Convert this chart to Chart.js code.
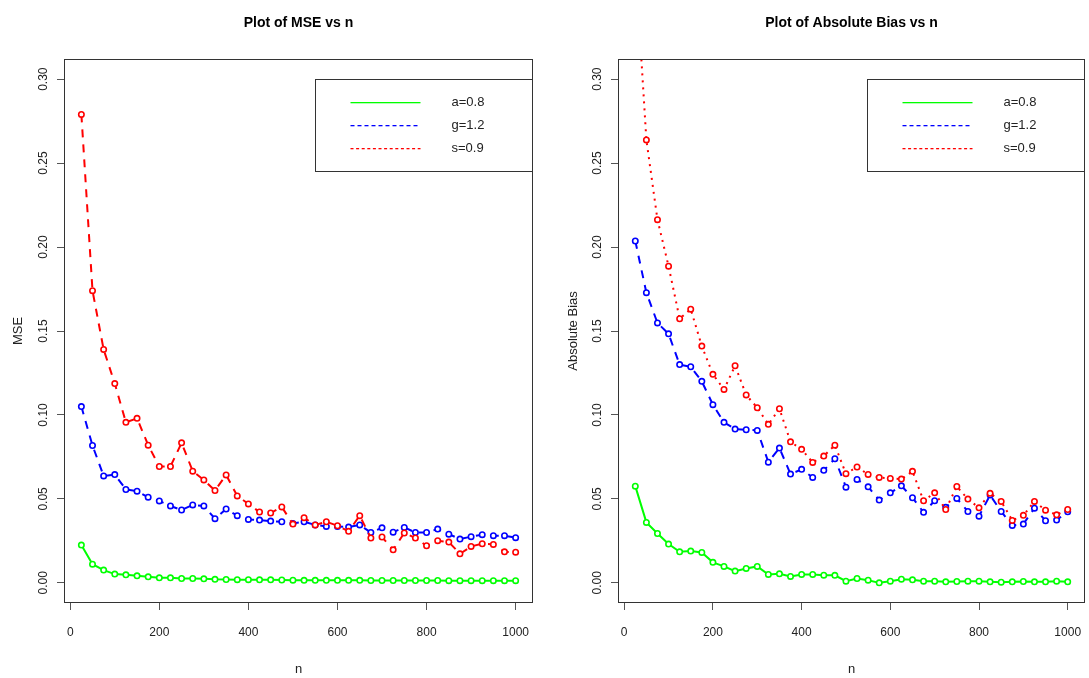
<!DOCTYPE html>
<html>
<head>
<meta charset="utf-8">
<script src="https://cdn.jsdelivr.net/npm/chart.js@4.4.1/dist/chart.umd.min.js"></script>
<style>
  body { margin: 0; background: #fff; width: 1089px; height: 678px; overflow: hidden; position: relative; }
  #mse { position: absolute; left: 0; top: 0; }
  #bias { position: absolute; left: 545px; top: 0; }
</style>
</head>
<body>
<canvas id="mse" width="545" height="678"></canvas>
<canvas id="bias" width="552" height="678"></canvas>
<script>
// sample sizes
const n = [25, 50, 75, 100, 125, 150, 175, 200, 225, 250, 275, 300, 325, 350, 375, 400, 425, 450, 475, 500,
           525, 550, 575, 600, 625, 650, 675, 700, 725, 750, 775, 800, 825, 850, 875, 900, 925, 950, 975, 1000];

// MSE
const mseA = [0.0225, 0.0111, 0.0076, 0.0052, 0.0048, 0.0042, 0.0036, 0.0030, 0.0030, 0.0026,
              0.0026, 0.0024, 0.0021, 0.0020, 0.0019, 0.0019, 0.0018, 0.0018, 0.0017, 0.0016,
              0.0015, 0.0015, 0.0015, 0.0015, 0.0015, 0.0015, 0.0014, 0.0014, 0.0014, 0.0014,
              0.0014, 0.0014, 0.0014, 0.0013, 0.0013, 0.0013, 0.0013, 0.0013, 0.0013, 0.0013];
const mseG = [0.105, 0.0818, 0.0637, 0.0645, 0.0556, 0.0546, 0.051, 0.0488, 0.0458, 0.0434,
              0.0464, 0.0458, 0.0382, 0.044, 0.040, 0.0378, 0.0374, 0.0368, 0.0364, 0.0354,
              0.0364, 0.0345, 0.0336, 0.0336, 0.0332, 0.0345, 0.030, 0.0328, 0.0302, 0.033,
              0.030, 0.030, 0.032, 0.029, 0.0261, 0.0275, 0.0287, 0.0281, 0.0281, 0.0269];
const mseS = [0.279, 0.174, 0.139, 0.1187, 0.0956, 0.098, 0.082, 0.0693, 0.0693, 0.0834,
              0.0665, 0.0613, 0.055, 0.0643, 0.0518, 0.047, 0.0422, 0.0416, 0.0452, 0.035,
              0.0388, 0.0345, 0.0364, 0.034, 0.0307, 0.040, 0.0267, 0.0273, 0.0197, 0.0297,
              0.0267, 0.0221, 0.0251, 0.0243, 0.0173, 0.0217, 0.0233, 0.0229, 0.0185, 0.0183];

// Absolute bias
const biasA = [0.0576, 0.036, 0.0294, 0.0231, 0.0185, 0.0189, 0.0181, 0.0122, 0.0098, 0.007,
               0.0086, 0.0098, 0.005, 0.0054, 0.0038, 0.005, 0.005, 0.0046, 0.0045, 0.001,
               0.0026, 0.0016, 0.0, 0.001, 0.0022, 0.0018, 0.001, 0.001, 0.0006, 0.0008,
               0.001, 0.001, 0.0006, 0.0004, 0.0006, 0.0008, 0.0006, 0.0006, 0.001, 0.0006];
const biasG = [0.2036, 0.1728, 0.1548, 0.1483, 0.13, 0.1287, 0.12, 0.1061, 0.0956, 0.0916,
               0.0912, 0.0908, 0.0719, 0.0803, 0.0648, 0.0676, 0.0628, 0.067, 0.0739, 0.057,
               0.0616, 0.0572, 0.0493, 0.0536, 0.0578, 0.0507, 0.042, 0.0489, 0.045, 0.0503,
               0.0425, 0.0397, 0.0523, 0.0425, 0.0342, 0.035, 0.0445, 0.037, 0.0374, 0.0423];
const biasS = [0.37, 0.2638, 0.2163, 0.1886, 0.1573, 0.163, 0.141, 0.1242, 0.1152, 0.1293,
               0.1119, 0.1043, 0.0944, 0.1037, 0.084, 0.0795, 0.0717, 0.0755, 0.082, 0.065,
               0.069, 0.0646, 0.0628, 0.0622, 0.0618, 0.0664, 0.0489, 0.0536, 0.0437, 0.0574,
               0.0499, 0.0447, 0.0533, 0.0485, 0.0372, 0.0402, 0.0485, 0.0433, 0.0405, 0.0437];

const seriesNames = ["a=0.8", "g=1.2", "s=0.9"];
const seriesColors = ["#00ff00", "#0000ff", "#ff0000"];

const xTicks = [0, 200, 400, 600, 800, 1000];
const xTickLabels = ["0", "200", "400", "600", "800", "1000"];
const yTicks = [0, 0.05, 0.10, 0.15, 0.20, 0.25, 0.30];
const yTickLabels = ["0.00", "0.05", "0.10", "0.15", "0.20", "0.25", "0.30"];

// legend sample dashes [on, off] per series (0 = solid)
const legendDash = [[70, 0], [4, 3], [3, 2.6]];

Chart.defaults.font.family = '"Liberation Sans", Arial, sans-serif';
Chart.defaults.color = "#222";

// R style box around plot region + legend box in top right corner
const rBox = {
  id: "rBox",
  afterDraw(chart) {
    const ctx = chart.ctx;
    const a = chart.chartArea;
    ctx.save();
    ctx.strokeStyle = "#333";
    ctx.lineWidth = 1;
    const l = Math.round(a.left) + 0.5, t = Math.round(a.top) + 0.5;
    const r = Math.round(a.right) - 0.5, b = Math.round(a.bottom) - 0.5;
    ctx.strokeRect(l, t, r - l, b - t);

    const lx = r - 217, ly = 79.5;
    ctx.strokeRect(lx, ly, 217, 92);
    seriesNames.forEach((naam, i) => {
      const y = Math.round(ly + 22 + i * 23);
      const [aan, uit] = legendDash[i];
      ctx.fillStyle = seriesColors[i];
      for (let x = lx + 35; x < lx + 105; x += aan + uit) {
        ctx.fillRect(x, y, Math.min(aan, lx + 105 - x), 1.3);
      }
      ctx.fillStyle = "#222";
      ctx.font = '13px "Liberation Sans", Arial, sans-serif';
      ctx.textBaseline = "middle";
      ctx.fillText(naam, lx + 136, y + 0.5);
    });
    ctx.restore();
  }
};

function maakGrafiek(id, titel, yTitel, reeksen, streepjes, yBreedte, yTitelPad, rechts) {
  const ctx = document.getElementById(id).getContext("2d");
  return new Chart(ctx, {
    type: "line",
    data: {
      datasets: reeksen.map((r, i) => ({
        label: seriesNames[i],
        data: n.map((x, j) => ({ x: x, y: r[j] })),
        borderColor: seriesColors[i],
        backgroundColor: seriesColors[i],
        borderWidth: 2,
        borderDash: streepjes[i],
        pointRadius: 2.7,
        pointBorderWidth: 1.6,
        pointBackgroundColor: "#fff",
        pointBorderColor: seriesColors[i],
        tension: 0,
        order: 2 - i
      }))
    },
    options: {
      responsive: false,
      animation: false,
      layout: { padding: { left: 0, right: rechts, top: 0, bottom: 0 } },
      plugins: {
        legend: { display: false },
        tooltip: { enabled: false },
        title: {
          display: true,
          text: titel,
          fullSize: false,
          color: "#000",
          font: { size: 14, weight: "bold" },
          padding: { top: 14.6, bottom: 27.6 }
        }
      },
      scales: {
        x: {
          type: "linear",
          min: -14,
          max: 1039,
          afterBuildTicks: ax => { ax.ticks = xTicks.map(v => ({ value: v })); },
          afterFit: ax => { ax.height = 75; },
          grid: { display: true, drawOnChartArea: false, drawTicks: true, tickLength: 7, color: "#555" },
          border: { display: false },
          ticks: {
            autoSkip: false,
            maxRotation: 0,
            padding: 15,
            font: { size: 12 },
            callback: (v, i) => xTickLabels[i]
          },
          title: { display: true, text: "n", font: { size: 13 }, padding: { top: 0, bottom: 1 } }
        },
        y: {
          type: "linear",
          min: -0.012,
          max: 0.312,
          afterBuildTicks: ax => { ax.ticks = yTicks.map(v => ({ value: v })); },
          afterFit: ax => { ax.width = yBreedte; },
          grid: { display: true, drawOnChartArea: false, drawTicks: true, tickLength: 7, color: "#555" },
          border: { display: false },
          ticks: {
            autoSkip: false,
            minRotation: 90,
            maxRotation: 90,
            crossAlign: "center",
            padding: 2,
            font: { size: 12 },
            callback: (v, i) => yTickLabels[i]
          },
          title: { display: true, text: yTitel, font: { size: 13 }, padding: { top: yTitelPad, bottom: 0 } }
        }
      }
    },
    plugins: [rBox]
  });
}

maakGrafiek("mse", "Plot of MSE vs n", "MSE", [mseA, mseG, mseS],
            [[], [8, 7], [8, 7]], 64, 11, 12);
maakGrafiek("bias", "Plot of Absolute Bias vs n", "Absolute Bias", [biasA, biasG, biasS],
            [[], [8, 7], [2, 5]], 73, 20.5, 12);
</script>
</body>
</html>
